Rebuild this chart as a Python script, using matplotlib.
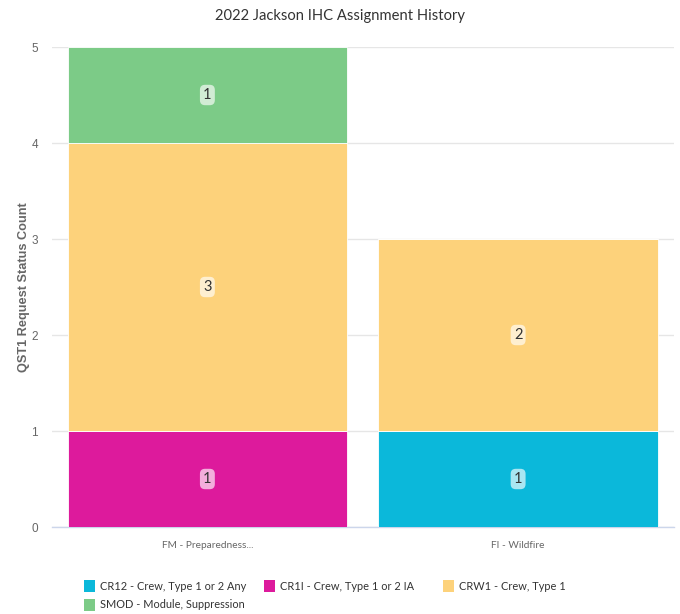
import matplotlib
matplotlib.use("Agg")
import matplotlib.pyplot as plt
from matplotlib.patches import Rectangle
import numpy as np

categories = ["FM - Preparedness...", "FI - Wildfire"]
series_names = ["CR12 - Crew, Type 1 or 2 Any", "CR1I - Crew, Type 1 or 2 IA",
                "CRW1 - Crew, Type 1", "SMOD - Module, Suppression"]
cr12 = [0, 1]
cr1i = [1, 0]
crw1 = [3, 2]
smod = [1, 0]
series_colors = ["#0bb8da", "#dd1a9c", "#fdd27b", "#7ccb87"]
title = "2022 Jackson IHC Assignment History"
ylabel = "QST1 Request Status Count"
yticks = [0, 1, 2, 3, 4, 5]

plt.rcParams['font.family'] = ['Lato', 'DejaVu Sans']

fig = plt.figure(figsize=(6.8, 6.14), dpi=100)
ax = fig.add_axes([52/680, 1-527/614, (673.5-52)/680, (527-47)/614])

x = np.arange(len(categories))
bottom = np.zeros(len(categories))
# stacking order from bottom: CR12, CR1I, CRW1, SMOD
for vals, col in zip([cr12, cr1i, crw1, smod], series_colors):
    vals = np.array(vals, dtype=float)
    ax.bar(x, vals, width=0.9, bottom=bottom, color=col, edgecolor='white', linewidth=0.6, zorder=3)
    for xi, v, b in zip(x, vals, bottom):
        if v > 0:
            ax.text(xi, b + v/2, f"{int(v)}", ha='center', va='center', fontsize=10.5, color='#333333', zorder=5,
                    bbox=dict(boxstyle='round,pad=0.22,rounding_size=0.35', fc='white', ec='none', alpha=0.65))
    bottom += vals

ax.set_xlim(-0.5, len(categories)-0.5)
ax.set_ylim(0, 5)
ax.set_yticks(yticks)
ax.set_yticklabels([str(t) for t in yticks])
ax.set_xticks(x)
ax.set_xticklabels(categories)
ax.tick_params(axis='both', length=0, colors='#666666')
ax.tick_params(axis='y', pad=10, labelsize=8.5)
ax.tick_params(axis='x', pad=10, labelsize=7.3)
for t in ax.get_yticklabels():
    t.set_fontfamily(['Liberation Sans', 'DejaVu Sans'])
ax.grid(axis='y', color='#e6e6e6', linewidth=1, zorder=0)
for s in ['top', 'right', 'left']:
    ax.spines[s].set_visible(False)
ax.spines['bottom'].set_color('#ccd6eb')
ax.spines['bottom'].set_linewidth(1)
ax.set_ylabel(ylabel, fontsize=9.2, fontweight='bold', color='#666666', family=['Liberation Sans', 'DejaVu Sans'], labelpad=1)

fig.text(0.5, 1-16/614, title, ha='center', va='center', fontsize=10.6, color='#333333')

# legend
leg_pos = [(84, 586), (264, 586), (443, 586), (84, 605)]
for (lx, ly), name, col in zip(leg_pos, series_names, series_colors):
    fig.patches.append(Rectangle((lx/680, 1-(ly+6)/614), 11/680, 12/614, transform=fig.transFigure,
                                 facecolor=col, edgecolor='none'))
    fig.text((lx+16)/680, 1-ly/614, name, ha='left', va='center', fontsize=7.9, color='#333333')

fig.savefig("out.png", dpi=100)
